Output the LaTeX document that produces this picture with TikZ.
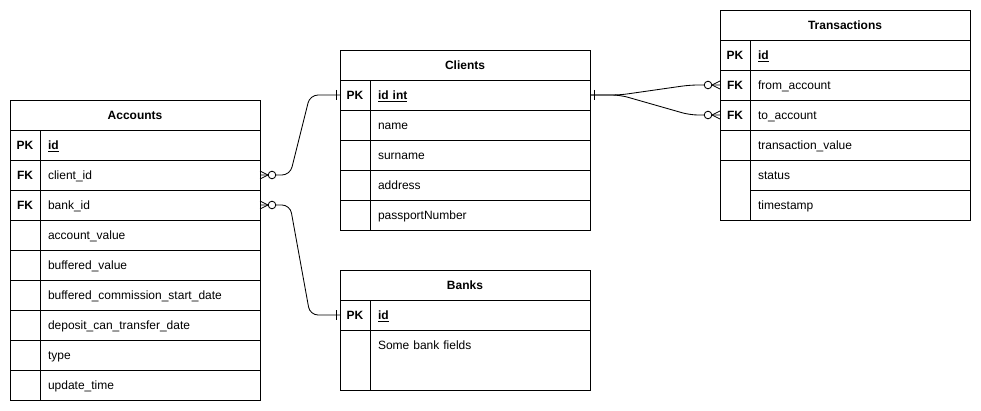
\documentclass[tikz,border=0pt]{standalone}
\usepackage{fontspec}
\setmainfont{Liberation Sans}
\usetikzlibrary{calc,positioning}
\tikzset{
  tabhead/.style={
    draw,
    outer sep=0pt,
    inner sep=0pt,
    minimum width=250pt,
    minimum height=30pt,
    text height=12pt,
    text depth=3pt,
    anchor=north west,
    font=\bfseries\fontsize{12}{14}\selectfont
  },
  keycell/.style={
    draw,
    outer sep=0pt,
    inner sep=0pt,
    minimum width=30pt,
    minimum height=30pt,
    text height=12pt,
    text depth=3pt,
    font=\bfseries\fontsize{12}{14}\selectfont
  },
  fieldcell/.style={
    draw,
    outer sep=0pt,
    inner xsep=8pt,
    inner ysep=0pt,
    text width=204pt,
    minimum height=30pt,
    text height=12pt,
    text depth=3pt,
    align=left,
    font=\fontsize{12}{14}\selectfont
  },
  rel/.style={
    rounded corners=8pt
  },
  zeromany/.pic={
    \draw (-8,0) -- (0,4) (-8,0) -- (0,-4);
    \draw[fill=white] (-12,0) circle (3.8pt);
  },
  onebar/.pic={
    \draw (-4,-5) -- (-4,5);
  }
}

\begin{document}
\begin{tikzpicture}[x=1pt,y=-1pt,line width=0.85pt]
\useasboundingbox (0,0) rectangle (981,411);
\node[tabhead] (accH) at (10,100) {Accounts};
\node[keycell,anchor=north west] (acc1k) at (accH.south west) {PK};
\node[fieldcell,right=0pt of acc1k] (acc1) {\textbf{\underline{id}}};
\node[keycell,below=0pt of acc1k] (acc2k) {FK};
\node[fieldcell,right=0pt of acc2k] (acc2) {client\_id};
\node[keycell,below=0pt of acc2k] (acc3k) {FK};
\node[fieldcell,right=0pt of acc3k] (acc3) {bank\_id};
\node[keycell,below=0pt of acc3k] (acc4k) {};
\node[fieldcell,right=0pt of acc4k] (acc4) {account\_value};
\node[keycell,below=0pt of acc4k] (acc5k) {};
\node[fieldcell,right=0pt of acc5k] (acc5) {buffered\_value};
\node[keycell,below=0pt of acc5k] (acc6k) {};
\node[fieldcell,right=0pt of acc6k] (acc6) {buffered\_commission\_start\_date};
\node[keycell,below=0pt of acc6k] (acc7k) {};
\node[fieldcell,right=0pt of acc7k] (acc7) {deposit\_can\_transfer\_date};
\node[keycell,below=0pt of acc7k] (acc8k) {};
\node[fieldcell,right=0pt of acc8k] (acc8) {type};
\node[keycell,below=0pt of acc8k] (acc9k) {};
\node[fieldcell,right=0pt of acc9k] (acc9) {update\_time};

\node[tabhead] (cliH) at (340,50) {Clients};
\node[keycell,anchor=north west] (cli1k) at (cliH.south west) {PK};
\node[fieldcell,right=0pt of cli1k] (cli1) {\textbf{\underline{id int}}};
\node[keycell,below=0pt of cli1k] (cli2k) {};
\node[fieldcell,right=0pt of cli2k] (cli2) {name};
\node[keycell,below=0pt of cli2k] (cli3k) {};
\node[fieldcell,right=0pt of cli3k] (cli3) {surname};
\node[keycell,below=0pt of cli3k] (cli4k) {};
\node[fieldcell,right=0pt of cli4k] (cli4) {address};
\node[keycell,below=0pt of cli4k] (cli5k) {};
\node[fieldcell,right=0pt of cli5k] (cli5) {passportNumber};

\node[tabhead] (traH) at (720,10) {Transactions};
\node[keycell,anchor=north west] (tra1k) at (traH.south west) {PK};
\node[fieldcell,right=0pt of tra1k] (tra1) {\textbf{\underline{id}}};
\node[keycell,below=0pt of tra1k] (tra2k) {FK};
\node[fieldcell,right=0pt of tra2k] (tra2) {from\_account};
\node[keycell,below=0pt of tra2k] (tra3k) {FK};
\node[fieldcell,right=0pt of tra3k] (tra3) {to\_account};
\node[keycell,below=0pt of tra3k] (tra4k) {};
\node[fieldcell,right=0pt of tra4k] (tra4) {transaction\_value};
\node[keycell,minimum height=60pt,below=0pt of tra4k] (tra5k) {};
\node[fieldcell,anchor=north west] (tra5) at (tra5k.north east) {status};
\node[fieldcell,below=0pt of tra5] (tra6) {timestamp};

\node[tabhead] (banH) at (340,270) {Banks};
\node[keycell,anchor=north west] (ban1k) at (banH.south west) {PK};
\node[fieldcell,right=0pt of ban1k] (ban1) {\textbf{\underline{id}}};
\node[keycell,minimum height=60pt,below=0pt of ban1k] (ban2k) {};
\node[fieldcell,minimum height=60pt,text height=19.5pt,text depth=40.5pt,anchor=north west] (ban2) at (ban2k.north east) {Some bank fields};

\draw[rel] (acc2.east) -- ++(30,0) -- ($(cli1k.west)+(-30,0)$) -- (cli1k.west);
\draw[rel] (acc3.east) -- ++(30,0) -- ($(ban1k.west)+(-30,0)$) -- (ban1k.west);
\draw[rel] (cli1.east) -- ++(30,0) -- ($(tra2k.west)+(-30,0)$) -- (tra2k.west);
\draw[rel] (cli1.east) -- ++(30,0) -- ($(tra3k.west)+(-30,0)$) -- (tra3k.west);

\pic[xscale=-1] at (acc2.east) {zeromany};
\pic[xscale=-1] at (acc3.east) {zeromany};
\pic at (tra2k.west) {zeromany};
\pic at (tra3k.west) {zeromany};
\pic at (cli1k.west) {onebar};
\pic at (ban1k.west) {onebar};
\pic[xscale=-1] at (cli1.east) {onebar};
\end{tikzpicture}
\end{document}
